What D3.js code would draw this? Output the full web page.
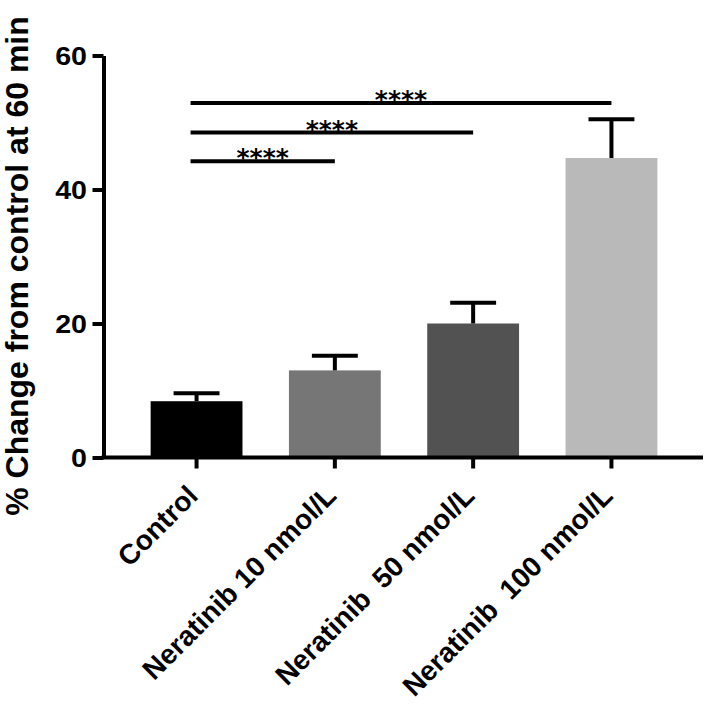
<!DOCTYPE html>
<html>
<head>
<meta charset="utf-8">
<script src="https://cdn.jsdelivr.net/npm/d3@7"></script>
<style>
  html, body { margin: 0; padding: 0; background: #fff; }
  svg { display: block; }
  text { font-family: "Liberation Sans", Arial, Helvetica, sans-serif; }
</style>
</head>
<body>
<div id="chart"></div>
<script>
// ---- data ----
const categories = ["Control", "Neratinib 10 nmol/L", "Neratinib  50 nmol/L", "Neratinib  100 nmol/L"];
const means = [8.4, 13.0, 20.0, 44.7];
const sems = [1.2, 2.2, 3.1, 5.8];
const barColors = ["#000000", "#767676", "#525252", "#b9b9b9"];
const yTicks = [0, 20, 40, 60];
const yTitle = "% Change from control at 60 min";
const compFrom = [0, 0, 0];
const compTo = [1, 2, 3];
const compLevels = [44.2, 48.5, 52.9];
const compLabels = ["****", "****", "****"];

// ---- layout ----
const W = 709, H = 710;
const svg = d3.select("#chart").append("svg").attr("width", W).attr("height", H);
svg.append("rect").attr("width", W).attr("height", H).attr("fill", "#fff");

const y = d3.scaleLinear().domain([0, 60]).range([457.5, 55.5]);
const x = d3.scaleBand().domain(categories).range([105, 703]).paddingInner(0.336).paddingOuter(0.33);
const cx = c => x(c) + x.bandwidth() / 2;
const axisX = 103.5;
const lw = 4;
const stretch = 1.1;

// bars
svg.append("g").selectAll("rect").data(categories).join("rect")
  .attr("x", d => x(d))
  .attr("y", (d, i) => y(means[i]))
  .attr("width", x.bandwidth())
  .attr("height", (d, i) => y(0) - y(means[i]))
  .attr("fill", (d, i) => barColors[i]);

// error bars (upper only)
const eb = svg.append("g").attr("stroke", "#000").attr("stroke-width", lw);
categories.forEach((c, i) => {
  eb.append("line").attr("x1", cx(c)).attr("x2", cx(c))
    .attr("y1", y(means[i])).attr("y2", y(means[i] + sems[i]));
  eb.append("line").attr("x1", cx(c) - x.bandwidth() / 4).attr("x2", cx(c) + x.bandwidth() / 4)
    .attr("y1", y(means[i] + sems[i])).attr("y2", y(means[i] + sems[i]));
});

// y axis
const gy = svg.append("g").attr("transform", `translate(${axisX},0)`)
  .call(d3.axisLeft(y).tickValues(yTicks).tickSize(11).tickSizeOuter(0).tickPadding(4));
gy.select(".domain").attr("stroke", "#000").attr("stroke-width", lw);
gy.selectAll(".tick line").attr("stroke", "#000").attr("stroke-width", lw);
gy.selectAll(".tick text").attr("fill", "#000")
  .attr("transform", `scale(${stretch},1)`)
  .style("font-size", "26px").style("font-weight", "bold").attr("dy", "0.36em");

// x axis
const gx = svg.append("g").attr("transform", `translate(0,${y(0)})`)
  .call(d3.axisBottom(x).tickSize(11).tickSizeOuter(0));
gx.select(".domain").attr("d", `M${axisX - 2},0H703`).attr("stroke", "#000").attr("stroke-width", lw);
gx.selectAll(".tick line").attr("stroke", "#000").attr("stroke-width", lw);
gx.selectAll(".tick text").attr("fill", "#000")
  .attr("x", 0).attr("y", 0).attr("dy", 0)
  .attr("transform", "translate(3,40) rotate(-45)")
  .style("text-anchor", "end")
  .style("white-space", "pre")
  .style("font-size", "28px").style("font-weight", "bold");

// y title
svg.append("text")
  .attr("transform", `translate(28,266) rotate(-90)`)
  .attr("text-anchor", "middle")
  .style("font-size", "32px").style("font-weight", "bold")
  .attr("fill", "#000")
  .text(yTitle);

// significance comparisons
const sg = svg.append("g");
compFrom.forEach((f, i) => {
  const x1 = cx(categories[f]) - 6;
  const x2 = cx(categories[compTo[i]]);
  const yy = y(compLevels[i]);
  sg.append("line").attr("x1", x1).attr("x2", x2).attr("y1", yy).attr("y2", yy)
    .attr("stroke", "#000").attr("stroke-width", lw);
  sg.append("text").attr("x", (x1 + x2) / 2).attr("y", yy + 5)
    .attr("text-anchor", "middle")
    .style("font-family", "'DejaVu Sans', sans-serif")
    .style("font-size", "25px").style("font-weight", "bold")
    .attr("fill", "#000")
    .text(compLabels[i]);
});
</script>
</body>
</html>
